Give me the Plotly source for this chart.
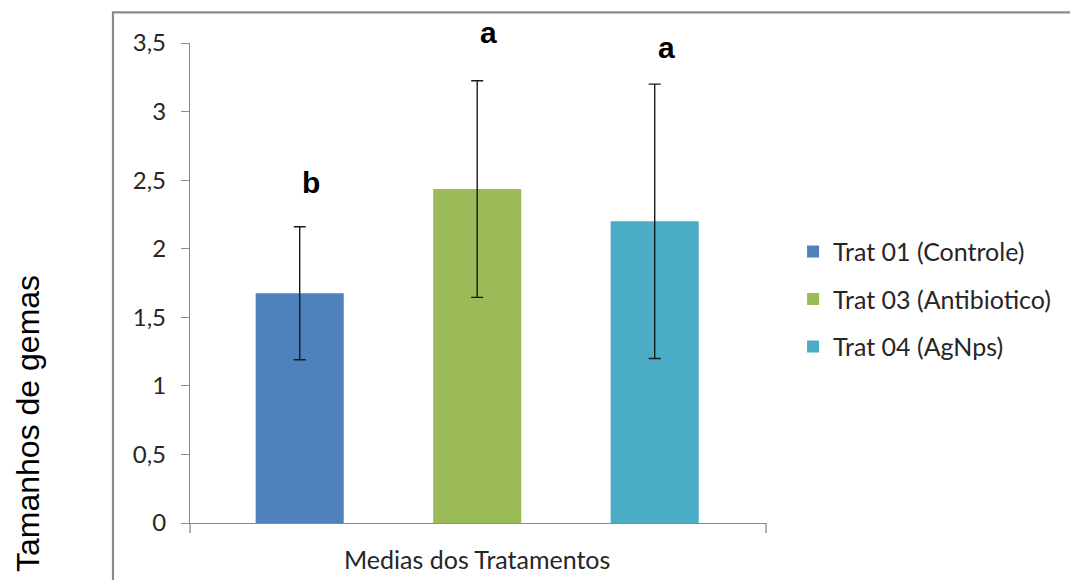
import plotly.graph_objects as go

# Treatment means, standard deviations and significance letters
tratamentos = ["Trat 01 (Controle)", "Trat 03 (Antibiotico)", "Trat 04 (AgNps)"]
medias = [1.675, 2.435, 2.20]
desvios = [0.485, 0.79, 1.0]
letras = ["b", "a", "a"]
letra_y = [2.48, 3.58, 3.47]
cores = ["#4F81BD", "#9BBB59", "#4BACC6"]

posicoes = list(range(len(tratamentos)))
y_max = 3.5

fig = go.Figure()
for i, nome in enumerate(tratamentos):
    fig.add_trace(go.Bar(
        x=[posicoes[i]],
        y=[medias[i]],
        name=nome,
        legendgroup=nome,
        width=0.496,
        marker=dict(color=cores[i], line=dict(width=0)),
        error_y=dict(type="data", array=[desvios[i]], visible=True,
                     color="#1a1a1a", thickness=1.4, width=6),
        hoverinfo="skip",
    ))

# letters above the bars (paper y so the ones above the axis top stay visible)
for i, letra in enumerate(letras):
    fig.add_annotation(
        x=posicoes[i] + 0.065, y=letra_y[i] / y_max, xref="x", yref="paper",
        text=f"<b>{letra}</b>", showarrow=False,
        font=dict(family="Liberation Sans, Arial", size=30, color="#000000"),
        xanchor="center", yanchor="middle",
    )

# y-axis title placed outside the chart frame
fig.add_annotation(
    x=-0.281, y=0.2066, xref="paper", yref="paper",
    text="Tamanhos de gemas", showarrow=False, textangle=-90,
    font=dict(family="Liberation Sans, Arial", size=32, color="#000000"),
    xanchor="center", yanchor="middle",
)

# chart frame and category-axis end ticks
fig.add_shape(type="rect", xref="paper", yref="paper",
              x0=-0.1337, x1=1.65, y0=-0.2, y1=1.0639,
              line=dict(color="#8a8a8a", width=2.2), fillcolor="rgba(0,0,0,0)",
              layer="below")
for xe in (0, 1):
    fig.add_shape(type="line", xref="paper", yref="paper",
                  x0=xe, x1=xe, y0=0, y1=-0.021,
                  line=dict(color="#8a8a8a", width=1.3))

fig.update_layout(
    width=1070, height=580,
    margin=dict(l=190, r=304, t=43, b=57, autoexpand=False),
    paper_bgcolor="white", plot_bgcolor="white",
    separators=",.",
    barmode="overlay",
    showlegend=True,
    legend=dict(
        x=1.047, y=0.613, xanchor="left", yanchor="top",
        font=dict(family="Lato", size=25, color="#262626"),
        tracegroupgap=12, bgcolor="rgba(0,0,0,0)",
    ),
    xaxis=dict(
        range=[-0.618, 2.627],
        tickvals=[1], ticktext=["Medias dos Tratamentos"],
        ticks="", showgrid=False, zeroline=False, automargin=False,
        showline=True, linecolor="#8a8a8a", linewidth=1.3,
        tickfont=dict(family="Lato", size=25, color="#262626"),
        ticklabelstandoff=15,
    ),
    yaxis=dict(
        range=[0, y_max], dtick=0.5, tick0=0, automargin=False,
        ticks="outside", ticklen=8, tickcolor="#8a8a8a", tickwidth=1.3,
        showgrid=False, zeroline=False,
        showline=True, linecolor="#8a8a8a", linewidth=1.3,
        tickfont=dict(family="Lato", size=24, color="#262626"),
        ticklabelstandoff=10,
    ),
)

fig.write_html("out.html")
